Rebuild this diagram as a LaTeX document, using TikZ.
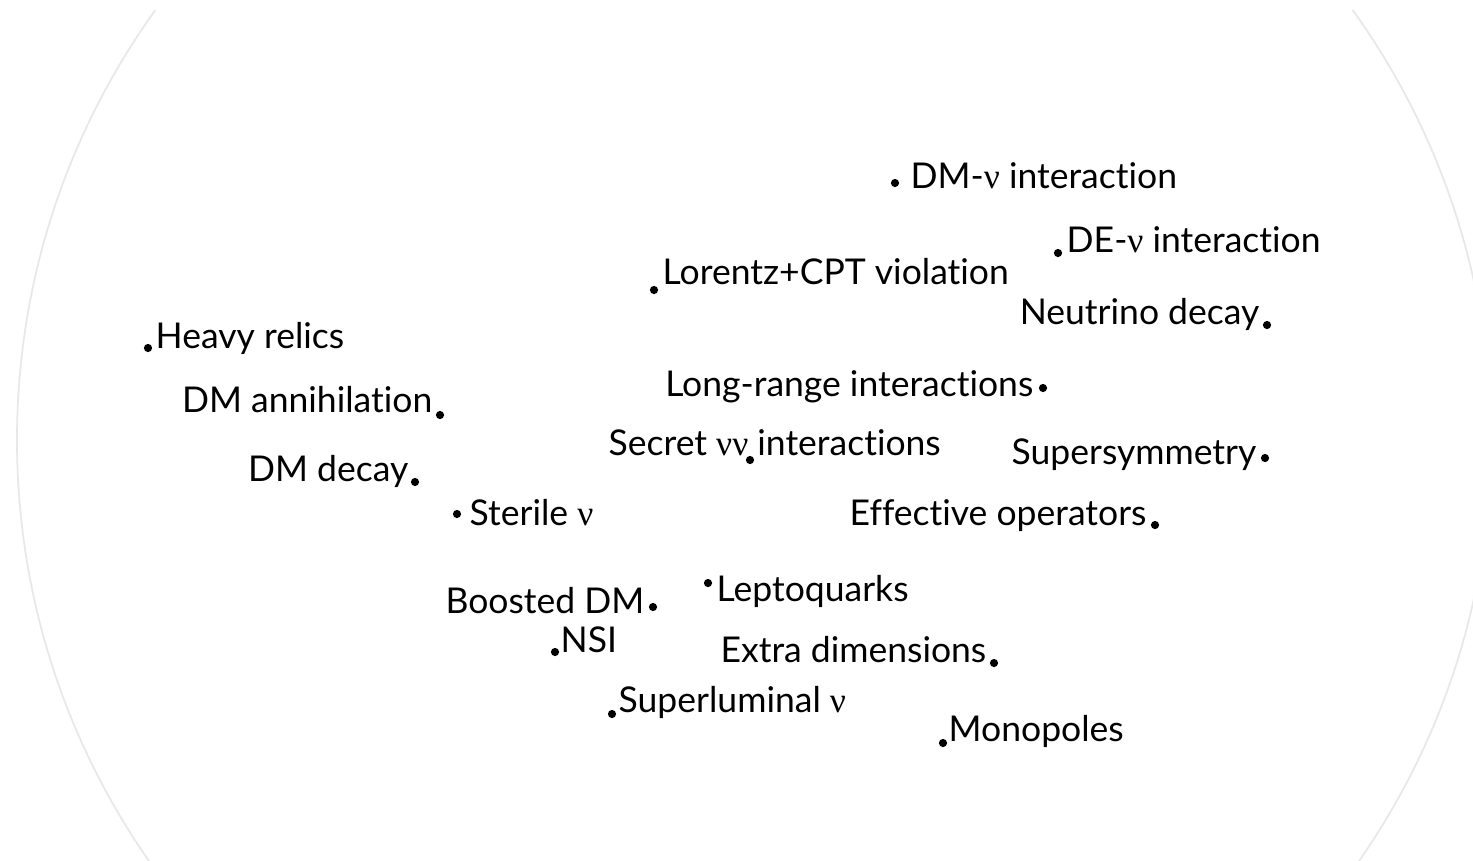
\documentclass[tikz,border=0pt]{standalone}
\usepackage{fontspec}
\setmainfont{Lato}[Ligatures=NoCommon]
\newfontfamily\nufont{Liberation Serif}
\newcommand{\nuv}{{\nufont ν}}
\begin{document}
\begin{tikzpicture}[x=0.01cm,y=-0.01cm,
  lbl/.style={anchor=base west, inner sep=0pt, font=\fontsize{10.1}{12}\selectfont, text=black},
  lblr/.style={lbl, anchor=base east},
  pt/.style={circle, fill=black, inner sep=0pt, minimum size=0.082cm},
  rim/.style={draw=gray!18, line width=0.5pt, fill=white}]
% page
\fill[white] (0,0) rectangle (1473,860);
\useasboundingbox (0,0) rectangle (1473,860);
% large disc behind the labels
\begin{scope}
  \clip (0,10) rectangle (1473,860);
  \draw[rim] (754,440) circle[radius=737];
\end{scope}
% labels with the marker on their left
\node[lbl] (dmnu)  at (910,188) {DM-\nuv{} interaction};
\node[lbl] (denu)  at (1066,252) {DE-\nuv{} interaction};
\node[lbl] (lcpt)  at (662,284) {Lorentz+CPT violation};
\node[lbl] (heavy) at (155,348) {Heavy relics};
\node[lbl] (secret) at (608,455) {Secret \nuv\nuv{} interactions};
\node[lbl] (steril) at (469,525) {Sterile \nuv};
\node[lbl] (lepto) at (716,601) {Leptoquarks};
\node[lbl] (nsi)   at (560,652) {NSI};
\node[lbl] (superl) at (618,712) {Superluminal \nuv};
\node[lbl] (mono)  at (948,741) {Monopoles};
% labels with the marker on their right
\node[lblr] (ndec)  at (1260,324) {Neutrino decay};
\node[lblr] (dmann) at (433,412) {DM annihilation};
\node[lblr] (lrange) at (1034,396) {Long-range interactions};
\node[lblr] (dmdec) at (409,481) {DM decay};
\node[lblr] (susy)  at (1257,464) {Supersymmetry};
\node[lblr] (effop) at (1147,525) {Effective operators};
\node[lblr] (boost) at (645,613) {Boosted DM};
\node[lblr] (extra) at (987,662) {Extra dimensions};
% markers
\node[pt] (p-dmnu)  at (895,183) {};
\node[pt] (p-denu)  at (1058,253) {};
\node[pt] (p-lcpt)  at (654,290) {};
\node[pt] (p-ndec)  at (1267,325) {};
\node[pt] (p-heavy) at (148,348) {};
\node[pt] (p-dmann) at (440,415) {};
\node[pt] (p-lrange) at (1043,388) {};
\node[pt] (p-secret) at (750,460) {};
\node[pt] (p-dmdec) at (415,482) {};
\node[pt] (p-susy)  at (1265,458) {};
\node[pt] (p-steril) at (457,514) {};
\node[pt] (p-effop) at (1155,525) {};
\node[pt] (p-boost) at (653,607) {};
\node[pt] (p-lepto) at (708,583) {};
\node[pt] (p-nsi)   at (555,652) {};
\node[pt] (p-extra) at (994,663) {};
\node[pt] (p-superl) at (612,714) {};
\node[pt] (p-mono)  at (943,743) {};
\end{tikzpicture}
\end{document}
